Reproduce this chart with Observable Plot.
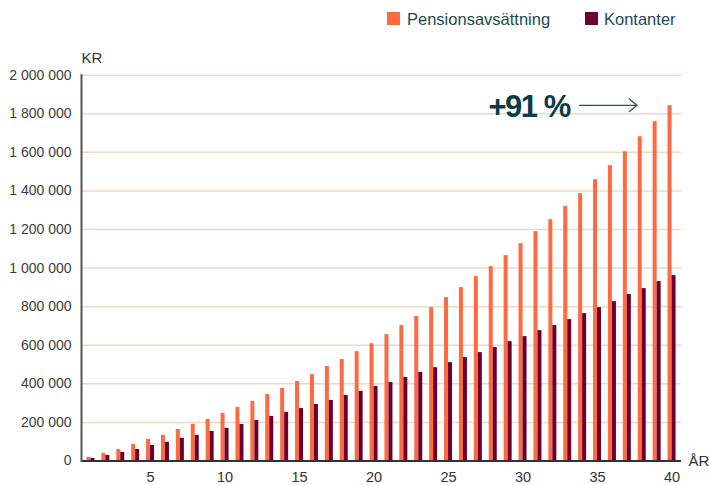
<!DOCTYPE html>
<html>
<head>
<meta charset="utf-8">
<script src="https://cdn.jsdelivr.net/npm/d3@7"></script>
<script src="https://cdn.jsdelivr.net/npm/@observablehq/plot@0.6"></script>
<style>
  html, body { margin: 0; padding: 0; background: #fff; }
  body { width: 709px; height: 485px; overflow: hidden; font-family: "Liberation Sans", Arial, sans-serif; }
  #legend { position: relative; width: 709px; height: 40px; }
  .sw { position: absolute; top: 12px; width: 13px; height: 13px; }
  .lt { position: absolute; top: 9px; font-size: 16.5px; color: #1d4a50; line-height: 20px; white-space: nowrap; }
  svg { display: block; }
</style>
</head>
<body>
<div id="legend"></div>
<div id="chart"></div>
<script>
const years = d3.range(1, 41);
const pension = [19000, 40000, 60000, 86000, 112000, 133000, 164000, 190000, 216000, 247000,
  278000, 309000, 345000, 376000, 412000, 448000, 490000, 526000, 567000, 608000,
  655000, 702000, 749000, 795000, 847000, 899000, 956000, 1008000, 1065000, 1127000,
  1189000, 1251000, 1319000, 1386000, 1458000, 1531000, 1603000, 1681000, 1759000, 1842000];
const kontanter = [13000, 29000, 44000, 60000, 81000, 97000, 118000, 133000, 153000, 169000,
  189000, 210000, 231000, 252000, 272000, 293000, 314000, 340000, 361000, 386000,
  407000, 433000, 459000, 484000, 510000, 536000, 562000, 588000, 619000, 645000,
  676000, 702000, 733000, 764000, 795000, 826000, 863000, 894000, 930000, 961000];
const seriesNames = ["Pensionsavsättning", "Kontanter"];
const colors = ["#ff6a40", "#6b0032"];
const yTicks = [0, 200000, 400000, 600000, 800000, 1000000, 1200000, 1400000, 1600000, 1800000, 2000000];
const xTicks = [5, 10, 15, 20, 25, 30, 35, 40];
const yLabel = "KR";
const xLabel = "ÅR";
const annotation = "+91 %";

// legend
const legend = document.getElementById("legend");
const legendPos = [[387, 407], [585, 604]];
seriesNames.forEach((name, i) => {
  const sw = document.createElement("div");
  sw.className = "sw"; sw.style.left = legendPos[i][0] + "px"; sw.style.background = colors[i];
  const t = document.createElement("div");
  t.className = "lt"; t.style.left = legendPos[i][1] + "px"; t.textContent = name;
  legend.append(sw, t);
});

const pData = years.map((y, i) => ({year: y, value: pension[i]}));
const kData = years.map((y, i) => ({year: y, value: kontanter[i]}));

const W = 709, H = 445, mL = 81, mR = 28, mT = 34.7, mB = 24.5;
const po = 0.135;
const step = (W - mL - mR) / (years.length + 2 * po);
const barW = 4;
const fmt = d => d3.format(",")(d).replace(/,/g, " ");

const arrowMark = (index, scales, values, dim) => {
  const g = d3.create("svg:g").attr("stroke", "#2b5258").attr("fill", "none").attr("stroke-width", 1.3);
  const yy = scales.y(1800000) - 8;
  g.append("line").attr("x1", 579).attr("x2", 637).attr("y1", yy).attr("y2", yy);
  g.append("path").attr("d", `M629,${yy - 6.5}L637,${yy}L629,${yy + 6.5}`);
  return g.node();
};

const chart = Plot.plot({
  width: W, height: H,
  marginLeft: mL, marginRight: mR, marginTop: mT, marginBottom: mB,
  style: {fontFamily: "Liberation Sans, Arial, sans-serif", background: "#fff", overflow: "visible"},
  x: {type: "band", domain: years, paddingInner: 0, paddingOuter: po, round: false, axis: null},
  y: {domain: [0, 2000000], axis: null},
  marks: [
    Plot.gridY(yTicks.slice(1), {stroke: "#f0d9c4", strokeOpacity: 1, strokeWidth: 1.5}),
    Plot.barY(pData, {x: "year", y: "value", fill: colors[0], insetLeft: step / 2 - barW, insetRight: step / 2}),
    Plot.barY(kData, {x: "year", y: "value", fill: colors[1], insetLeft: step / 2, insetRight: step / 2 - barW}),
    Plot.ruleY([0], {stroke: "#333", strokeWidth: 2}),
    Plot.frame({anchor: "left", stroke: "#555", strokeWidth: 2}),
    Plot.axisY({ticks: yTicks, tickSize: 0, tickPadding: 10, tickFormat: fmt, label: null, fontSize: 14, color: "#3c3c3c"}),
    Plot.axisX({ticks: xTicks, tickSize: 0, tickPadding: 11, label: null, fontSize: 14.5, color: "#333"}),
    Plot.text([yLabel], {frameAnchor: "top-left", textAnchor: "start", lineAnchor: "bottom", dy: -12, dx: 0, fontSize: 15, fill: "#333"}),
    Plot.text([xLabel], {frameAnchor: "bottom-right", textAnchor: "start", lineAnchor: "middle", dx: 7, fontSize: 15, fill: "#333"}),
    Plot.text([annotation], {frameAnchor: "top-left", textAnchor: "start", lineAnchor: "middle", dx: 488 - mL, dy: 107 - 40 - mT, fontSize: 31, fontWeight: 700, fill: "#0d3c44", className: "pct"}),
    arrowMark
  ]
});
d3.select(chart).selectAll("text").filter(function() { return this.textContent === annotation; })
  .attr("letter-spacing", "-1.5px");
document.getElementById("chart").append(chart);
</script>
</body>
</html>
